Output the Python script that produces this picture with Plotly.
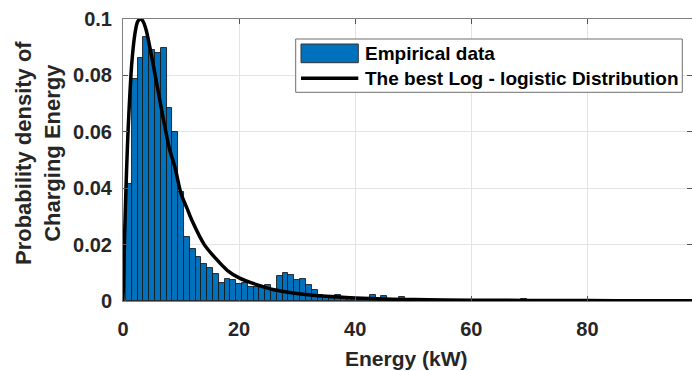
import plotly.graph_objects as go

# ---------------- data ----------------
bin_centers = list(range(1, 98))
density = [
    0.0414, 0.0788, 0.0862, 0.0936, 0.0889, 0.0879, 0.0897, 0.0684, 0.0601, 0.0385,
    0.0228, 0.0183, 0.0155, 0.0131, 0.0117, 0.0096, 0.0065, 0.0079, 0.0074, 0.0060,
    0.0065, 0.0049, 0.0051, 0.0049, 0.0058, 0.0039, 0.0089, 0.0101, 0.0092, 0.0074,
    0.0077, 0.0057, 0.0039, 0.0020, 0.0015, 0.0015, 0.0022, 0.0011, 0.0008, 0.0006,
    0.0004, 0.0004, 0.0020, 0.0008, 0.0017, 0.0006, 0.0004, 0.0013, 0.0003, 0.0003,
    0.0002, 0.0002, 0.0002, 0.0004, 0.0002, 0.0001, 0.0002, 0.0003, 0.0001, 0.0002,
    0.0001, 0.0001, 0.0002, 0.0001, 0.0001, 0.0001, 0.0002, 0.0001, 0.0008, 0.0001,
    0.0001, 0.0001, 0.0001, 0.0001, 0.0001, 0.0001, 0.0001, 0.0001, 0.0001, 0.0001,
    0.0001, 0.0001, 0.0001, 0.0001, 0.0001, 0.0001, 0.0001, 0.0001, 0.0001, 0.0001,
    0.0001, 0.0001, 0.0001, 0.0001, 0.0001, 0.0001, 0.0001,
]

curve_x = [0, 0.25, 0.5, 0.75, 1, 1.5, 2, 2.5, 3, 3.5, 4, 5, 6, 7, 8, 9, 10, 11, 12,
           14, 16, 18, 20, 23, 26, 30, 35, 40, 45, 50, 60, 70, 80, 90, 98]
curve_y = [0, 0.021, 0.039, 0.054, 0.066, 0.084, 0.094, 0.099, 0.100, 0.099, 0.096,
           0.086, 0.075, 0.064, 0.054, 0.047, 0.038, 0.033, 0.028, 0.020, 0.0150,
           0.0108, 0.0082, 0.0058, 0.0040, 0.0027, 0.0017, 0.0011, 0.0007, 0.0005,
           0.0003, 0.0002, 0.00015, 0.0001, 0.0001]

x_ticks = [0, 20, 40, 60, 80]
x_tick_labels = ["0", "20", "40", "60", "80"]
y_ticks = [0, 0.02, 0.04, 0.06, 0.08, 0.1]
y_tick_labels = ["0", "0.02", "0.04", "0.06", "0.08", "0.1"]

legend_labels = ["Empirical data", "The best Log - logistic Distribution"]
x_title = "Energy (kW)"
y_title = "Probability density of<br>Charging Energy"

# ---------------- layout geometry ----------------
W_FIG, H_FIG = 692, 371
L, R, T, B = 123, 0, 19, 70
PW, PH = W_FIG - L - R, H_FIG - T - B


def px(x):
    return (x - L) / PW


def py(y):
    return 1 - (y - T) / PH


FONT = "Liberation Sans, Arial, Helvetica, sans-serif"
BLUE = "#0072BD"

fig = go.Figure()
fig.add_bar(
    x=bin_centers, y=density, width=1,
    marker=dict(color=BLUE, line=dict(color="#1a1a1a", width=0.9)),
    name=legend_labels[0], showlegend=False,
)
fig.add_scatter(
    x=curve_x, y=curve_y, mode="lines",
    line=dict(color="black", width=3.5, shape="spline", smoothing=0.8),
    name=legend_labels[1], showlegend=False,
)

axis_common = dict(
    showgrid=True, gridcolor="#e3e3e3", gridwidth=1,
    showline=True, linecolor="#808080", linewidth=1,
    ticks="inside", ticklen=5, tickcolor="#555555", mirror="ticks",
    zeroline=False,
    tickfont=dict(family=FONT, size=20, color="#262626", weight="bold"),
)

fig.update_layout(
    width=W_FIG, height=H_FIG,
    margin=dict(l=L, r=R, t=T, b=B, pad=0),
    paper_bgcolor="white", plot_bgcolor="white",
    bargap=0,
    xaxis=dict(range=[0, 98], tickvals=x_ticks, ticktext=x_tick_labels,
               ticklabelstandoff=10, **axis_common),
    yaxis=dict(range=[0, 0.1], tickvals=y_ticks, ticktext=y_tick_labels,
               ticklabelstandoff=6, **axis_common),
    showlegend=False,
)

# manual legend (MATLAB style)
shapes = [
    dict(type="rect", xref="paper", yref="paper", x0=px(295.7), x1=px(682.3),
         y0=py(92.3), y1=py(39), fillcolor="white", line=dict(color="#6e6e6e", width=1), layer="above"),
    dict(type="rect", xref="paper", yref="paper", x0=px(301), x1=px(358.3),
         y0=py(62.7), y1=py(44), fillcolor=BLUE, line=dict(color="#333333", width=1), layer="above"),
    dict(type="line", xref="paper", yref="paper", x0=px(301), x1=px(358.3),
         y0=py(78.3), y1=py(78.3), line=dict(color="black", width=3.5), layer="above"),
]
annotations = [
    dict(text=legend_labels[0], xref="paper", yref="paper", x=px(363), y=py(53.5),
         xanchor="left", yanchor="middle", showarrow=False,
         font=dict(family=FONT, size=19, color="black", weight="bold")),
    dict(text=legend_labels[1], xref="paper", yref="paper", x=px(363), y=py(78.3),
         xanchor="left", yanchor="middle", showarrow=False,
         font=dict(family=FONT, size=19, color="black", weight="bold")),
    dict(text=x_title, xref="paper", yref="paper", x=px(406), y=py(358),
         xanchor="center", yanchor="middle", showarrow=False,
         font=dict(family=FONT, size=21, color="#262626", weight="bold")),
    dict(text=y_title, xref="paper", yref="paper", x=px(38), y=py(153),
         xanchor="center", yanchor="middle", showarrow=False, textangle=-90,
         font=dict(family=FONT, size=22, color="#262626", weight="bold")),
]
fig.update_layout(shapes=shapes, annotations=annotations)

fig.write_html("out.html")
